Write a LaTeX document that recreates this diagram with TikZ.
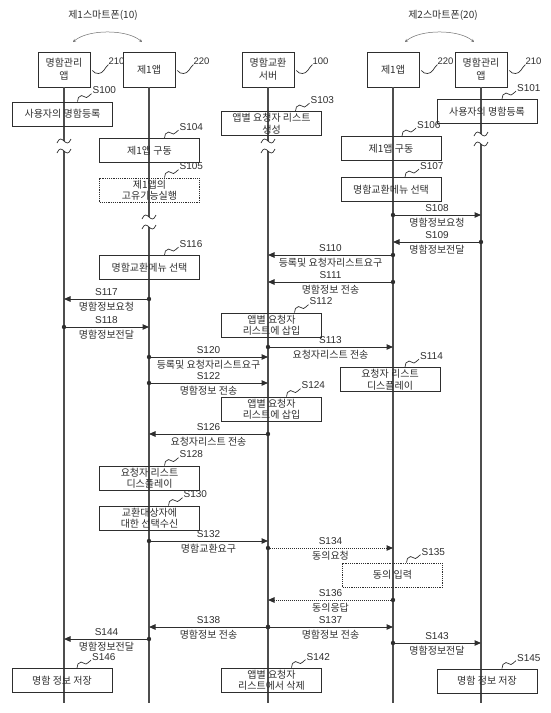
\documentclass[tikz,border=0pt]{standalone}
\usepackage{fontspec}
\setmainfont{Liberation Sans}
\newfontfamily\kr{Noto Sans CJK KR}
\usetikzlibrary{arrows.meta}

\definecolor{ink}{gray}{0.18}

\def\xa{64}
\def\xb{149}
\def\xc{268}
\def\xd{393}
\def\xe{481}
\def\ybot{703}

\tikzset{
  headbox/.style={draw=ink, line width=0.9pt, minimum width=52pt, minimum height=35pt,
    inner sep=1pt, align=center, text=ink, font=\kr\fontsize{10}{13}\selectfont},
  procbox/.style={draw=ink, line width=0.9pt, minimum width=100pt, minimum height=24pt,
    inner sep=1pt, align=center, text=ink, font=\kr\fontsize{10}{11.5}\selectfont},
  optbox/.style={procbox, dash pattern=on 1.2pt off 1pt},
  steplbl/.style={inner sep=0pt, text=ink, font=\fontsize{10}{10}\selectfont},
  msgtxt/.style={inner sep=0pt, text=ink, font=\kr\fontsize{10}{10}\selectfont},
  msgline/.style={draw=ink, line width=1pt, -{Triangle[length=6.5pt,width=5.5pt]}},
  ackline/.style={msgline, dash pattern=on 1pt off 1pt},
  lifeline/.style={draw=ink!85, line width=1.2pt},
  squig/.style={draw=ink, line width=0.7pt},
}

% 메시지: [스타일]{이름}{출발}{도착}{y}{단계}{내용}
\newcommand{\sendmsg}[7][msgline]{%
  \coordinate (#2s) at (#3 |- 0,#5);
  \coordinate (#2e) at (#4 |- 0,#5);
  \fill[ink] (#2s) circle (2.2pt);
  \draw[#1] (#2s) -- (#2e)
    node[midway, above=3pt, steplbl] (#2n) {#6}
    node[midway, below=3pt, msgtxt] (#2t) {#7};
}

% 단계 번호: [x이동]{상자}{번호}
\newcommand{\boxstep}[3][15]{%
  \draw[squig] ([xshift=#1pt]#2.north) to[out=90,in=180] ++(4,-6)
    to[out=0,in=180] ++(5,2) to[out=0,in=200] ++(5,-4) coordinate (#2q);
  \node[steplbl, anchor=west] (#2l) at ([shift={(1pt,3pt)}]#2q) {#3};
}

% 구성 번호
\newcommand{\headnum}[2]{%
  \draw[squig] ([shift={(2pt,-1pt)}]#1.east) to[out=-60,in=180] ++(6,3)
    to[out=0,in=220] ++(10,-9) coordinate (#1q);
  \node[steplbl, anchor=west, font=\fontsize{9.5}{10}\selectfont] (#1l) at ([shift={(0pt,3pt)}]#1q) {#2};
}

% 생략 표시
\newcommand{\lifecut}[2]{%
  \fill[white] (#1-8,#2) rectangle (#1+8,#2+10);
  \draw[squig] (#1-7,#2+2) .. controls (#1-2,#2-10) and (#1+2,#2+10) .. (#1+7,#2-2);
  \draw[squig] (#1-7,#2+12) .. controls (#1-2,#2) and (#1+2,#2+20) .. (#1+7,#2+8);
}

\begin{document}
\begin{tikzpicture}[x=1pt,y=-1pt]
\useasboundingbox (0,0) rectangle (550,713);

%스마트폰
\node[msgtxt] (phoneA) at (103,15) {제1스마트폰(10)};
\node[msgtxt] (phoneB) at (443,15) {제2스마트폰(20)};
\coordinate (arcA1) at (73,42);
\coordinate (arcA2) at (142,42);
\coordinate (arcB1) at (405,42);
\coordinate (arcB2) at (474,42);
\draw[ink!70, line width=0.5pt, {Stealth[length=3pt,width=3pt]}-{Stealth[length=3pt,width=3pt]}]
  (arcA1) .. controls (88,29) and (127,29) .. (arcA2);
\draw[ink!70, line width=0.5pt, {Stealth[length=3pt,width=3pt]}-{Stealth[length=3pt,width=3pt]}]
  (arcB1) .. controls (420,29) and (459,29) .. (arcB2);

%구성
\node[headbox] (mgrA) at (\xa,69.5) {명함관리\\앱};
\node[headbox] (appA) at (\xb,69.5) {제1앱};
\node[headbox] (srv) at (\xc,69.5) {명함교환\\서버};
\node[headbox] (appB) at (\xd,69.5) {제1앱};
\node[headbox] (mgrB) at (\xe,69.5) {명함관리\\앱};
\headnum{mgrA}{210}
\headnum{appA}{220}
\headnum{srv}{100}
\headnum{appB}{220}
\headnum{mgrB}{210}

\foreach \h in {mgrA,appA,srv,appB,mgrB}
  \draw[lifeline] (\h.south) -- (\h.south |- 0,\ybot);

\lifecut{\xa}{141}
\lifecut{\xc}{141}
\lifecut{\xb}{217}
\lifecut{\xe}{134}

%처리 단계
\node[procbox] (s100) at (62.5,114) {사용자의 명함등록};
\node[procbox] (s101) at (487,111.5) {사용자의 명함등록};
\node[procbox] (s103) at (271.5,123.5) {앱별 요청자 리스트\\생성};
\node[procbox] (s104) at (149.5,150.5) {제1앱 구동};
\node[optbox] (s105) at (149.5,190) {제1앱의\\고유기능실행};
\node[procbox] (s106) at (391,148.5) {제1앱 구동};
\node[procbox] (s107) at (391,189.5) {명함교환메뉴 선택};
\node[procbox] (s116) at (149.5,267.5) {명함교환메뉴 선택};
\node[procbox] (s112) at (271.5,325) {앱별 요청자\\리스트에 삽입};
\node[procbox] (s114) at (390,379.5) {요청자 리스트\\디스플레이};
\node[procbox] (s124) at (271.5,409) {앱별 요청자\\리스트에 삽입};
\node[procbox] (s128) at (149.5,478) {요청자 리스트\\디스플레이};
\node[procbox] (s130) at (149.5,518) {교환대상자에\\대한 선택수신};
\node[optbox] (s135) at (392.5,575) {동의 입력};
\node[procbox] (s142) at (271.5,680) {앱별 요청자\\리스트에서 삭제};
\node[procbox] (s145) at (487,681) {명함 정보 저장};
\node[procbox] (s146) at (62,680.5) {명함 정보 저장};

\boxstep{s100}{S100}
\boxstep{s101}{S101}
\boxstep[24]{s103}{S103}
\boxstep{s104}{S104}
\boxstep{s105}{S105}
\boxstep[11]{s106}{S106}
\boxstep[14]{s107}{S107}
\boxstep{s116}{S116}
\boxstep[23]{s112}{S112}
\boxstep{s114}{S114}
\boxstep{s124}{S124}
\boxstep{s128}{S128}
\boxstep[19]{s130}{S130}
\boxstep[14]{s135}{S135}
\boxstep[20]{s142}{S142}
\boxstep{s145}{S145}
\boxstep{s146}{S146}

%메시지
\sendmsg{m108}{appB}{mgrB}{215}{S108}{명함정보요청}
\sendmsg{m109}{mgrB}{appB}{242}{S109}{명함정보전달}
\sendmsg{m110}{appB}{srv}{255}{S110}{등록및 요청자리스트요구}
\sendmsg{m111}{appB}{srv}{282}{S111}{명함정보 전송}
\sendmsg{m117}{appA}{mgrA}{299}{S117}{명함정보요청}
\sendmsg{m118}{mgrA}{appA}{327}{S118}{명함정보전달}
\sendmsg{m113}{srv}{appB}{347}{S113}{요청자리스트 전송}
\sendmsg{m120}{appA}{srv}{357}{S120}{등록및 요청자리스트요구}
\sendmsg{m122}{appA}{srv}{383}{S122}{명함정보 전송}
\sendmsg{m126}{srv}{appA}{434}{S126}{요청자리스트 전송}
\sendmsg{m132}{appA}{srv}{541}{S132}{명함교환요구}
\sendmsg[ackline]{m134}{srv}{appB}{548}{S134}{동의요청}
\sendmsg[ackline]{m136}{appB}{srv}{600}{S136}{동의응답}
\sendmsg{m137}{srv}{appB}{627}{S137}{명함정보 전송}
\sendmsg{m138}{srv}{appA}{627}{S138}{명함정보 전송}
\sendmsg{m144}{appA}{mgrA}{639}{S144}{명함정보전달}
\sendmsg{m143}{appB}{mgrB}{643}{S143}{명함정보전달}

\end{tikzpicture}
\end{document}
